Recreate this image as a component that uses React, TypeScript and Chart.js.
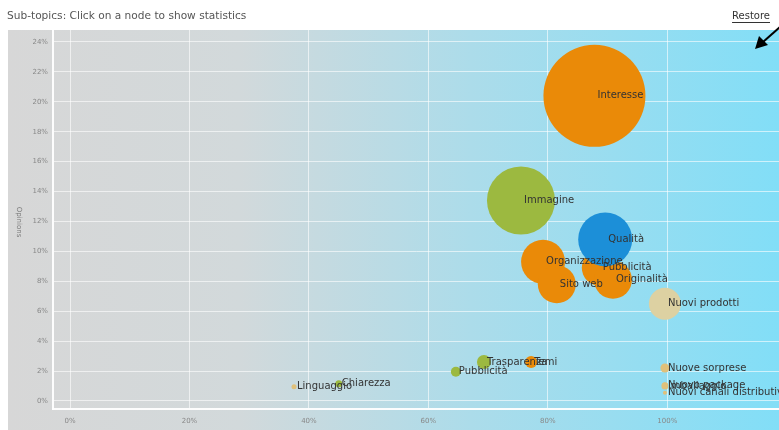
import React, { useEffect, useRef } from "react";
import { Chart, registerables } from "chart.js";

Chart.register(...registerables);

const labels = [
  "Linguaggio", "Chiarezza", "Pubblicità", "Trasparenza", "Temi",
  "Nuove sorprese", "Imballaggio", "Nuovo package", "Nuovi canali distributivi",
  "Nuovi prodotti", "Organizzazione", "Sito web", "Pubblicità", "Originalità",
  "Qualità", "Immagine", "Interesse",
];
const xValues = [37.5, 45.0, 64.6, 69.3, 77.2, 99.6, 99.6, 99.6, 99.6, 99.6, 79.2, 81.5, 88.7, 90.9, 89.6, 75.5, 87.8];
const yValues = [0.95, 1.15, 1.95, 2.6, 2.6, 2.2, 1.0, 1.05, 0.55, 6.5, 9.3, 7.8, 8.9, 8.1, 10.8, 13.4, 20.4];
const sizes = [2.5, 3.5, 5, 7, 6, 4.5, 3.5, 3, 2, 16, 22, 19, 18, 19, 27, 34, 51];
const colorKeys = ["tan", "green", "green", "green", "orange", "tan", "tan", "tan", "tan", "sand", "orange", "orange", "orange", "orange", "blue", "green", "orange"];

const xTicks = [0, 20, 40, 60, 80, 100];
const yTicks = [0, 2, 4, 6, 8, 10, 12, 14, 16, 18, 20, 22, 24];

const palette: Record<string, string> = {
  orange: "#ea8a08",
  green: "#9cb940",
  blue: "#1c8fd8",
  tan: "#e0c07a",
  sand: "#ddd1a2",
};

const bgPlugin = {
  id: "bgPlugin",
  beforeDraw(chart: any) {
    const ctx = chart.ctx;
    ctx.save();
    ctx.fillStyle = "#ffffff";
    ctx.fillRect(0, 0, chart.width, chart.height);
    const g = ctx.createLinearGradient(8, 0, chart.width, 0);
    g.addColorStop(0, "#d7d7d7");
    g.addColorStop(0.3, "#d2d9db");
    g.addColorStop(0.6, "#acdcea");
    g.addColorStop(1, "#82def7");
    ctx.fillStyle = g;
    ctx.fillRect(8, 30, chart.width - 8, chart.height - 30);
    ctx.restore();
  },
  afterDraw(chart: any) {
    const ctx = chart.ctx;
    ctx.save();
    ctx.fillStyle = "#555";
    ctx.font = "10.6px 'DejaVu Sans'";
    ctx.textBaseline = "middle";
    ctx.textAlign = "left";
    ctx.fillText("Sub-topics: Click on a node to show statistics", 7, 16);
    ctx.fillStyle = "#333";
    ctx.textAlign = "right";
    ctx.font = "10px 'DejaVu Sans'";
    ctx.fillText("Restore", 770, 16);
    const w = ctx.measureText("Restore").width;
    ctx.strokeStyle = "#333";
    ctx.lineWidth = 1;
    ctx.beginPath();
    ctx.moveTo(770 - w, 22.5);
    ctx.lineTo(770, 22.5);
    ctx.stroke();
    // arrow
    ctx.strokeStyle = "#000";
    ctx.fillStyle = "#000";
    ctx.lineWidth = 2;
    ctx.beginPath();
    ctx.moveTo(780, 27);
    ctx.lineTo(763, 42);
    ctx.stroke();
    ctx.beginPath();
    ctx.moveTo(755, 49);
    ctx.lineTo(759, 36);
    ctx.lineTo(768, 45);
    ctx.closePath();
    ctx.fill();
    // y title
    ctx.save();
    ctx.translate(19, 222);
    ctx.rotate(Math.PI / 2);
    ctx.font = "7px 'DejaVu Sans'";
    ctx.fillStyle = "#777";
    ctx.textAlign = "center";
    ctx.textBaseline = "middle";
    ctx.fillText("Opinions", 0, 0);
    ctx.restore();
    // bubble labels
    const meta = chart.getDatasetMeta(0);
    ctx.font = "10px 'DejaVu Sans'";
    ctx.fillStyle = "#333";
    ctx.textAlign = "left";
    ctx.textBaseline = "middle";
    meta.data.forEach((el: any, i: number) => {
      ctx.fillText(labels[i], el.x + 3, el.y);
    });
    ctx.restore();
  },
};

export default function App() {
  const ref = useRef<HTMLCanvasElement>(null);
  useEffect(() => {
    document.body.style.margin = "0";
    const data = labels.map((_, i) => ({ x: xValues[i], y: yValues[i], r: sizes[i] }));
    const chart = new Chart(ref.current!, {
      type: "bubble",
      data: {
        datasets: [
          {
            data,
            backgroundColor: colorKeys.map((k) => palette[k]),
            borderWidth: 0,
          },
        ],
      },
      plugins: [bgPlugin],
      options: {
        animation: false,
        responsive: false,
        devicePixelRatio: 1,
        clip: false as any,
        layout: { autoPadding: false, padding: { top: 30, right: 0, left: 0, bottom: 0 } },
        plugins: { legend: { display: false }, tooltip: { enabled: false } },
        scales: {
          x: {
            type: "linear",
            min: -2.85,
            max: 118.7,
            afterBuildTicks: (s: any) => {
              s.ticks = xTicks.map((v) => ({ value: v }));
            },
            afterFit: (s: any) => {
              s.height = 21;
            },
            grid: { color: "rgba(255,255,255,0.6)", lineWidth: 1, drawTicks: false },
            border: { color: "rgba(255,255,255,0.95)", width: 2 },
            ticks: {
              padding: 8,
              color: "#888",
              font: { family: "DejaVu Sans", size: 7 },
              callback: (v: any) => v + "%",
            },
          },
          y: {
            type: "linear",
            min: -0.54,
            max: 24.8,
            afterBuildTicks: (s: any) => {
              s.ticks = yTicks.map((v) => ({ value: v }));
            },
            afterFit: (s: any) => {
              s.width = 53;
            },
            grid: { color: "rgba(255,255,255,0.6)", lineWidth: 1, drawTicks: false },
            border: { color: "rgba(255,255,255,0.95)", width: 2 },
            ticks: {
              padding: 5,
              color: "#888",
              font: { family: "DejaVu Sans", size: 7 },
              callback: (v: any) => v + "%",
            },
          },
        },
      },
    });
    return () => chart.destroy();
  }, []);
  return (
    <div style={{ width: 779, height: 430 }}>
      <canvas ref={ref} width={779} height={430} style={{ display: "block" }} />
    </div>
  );
}
